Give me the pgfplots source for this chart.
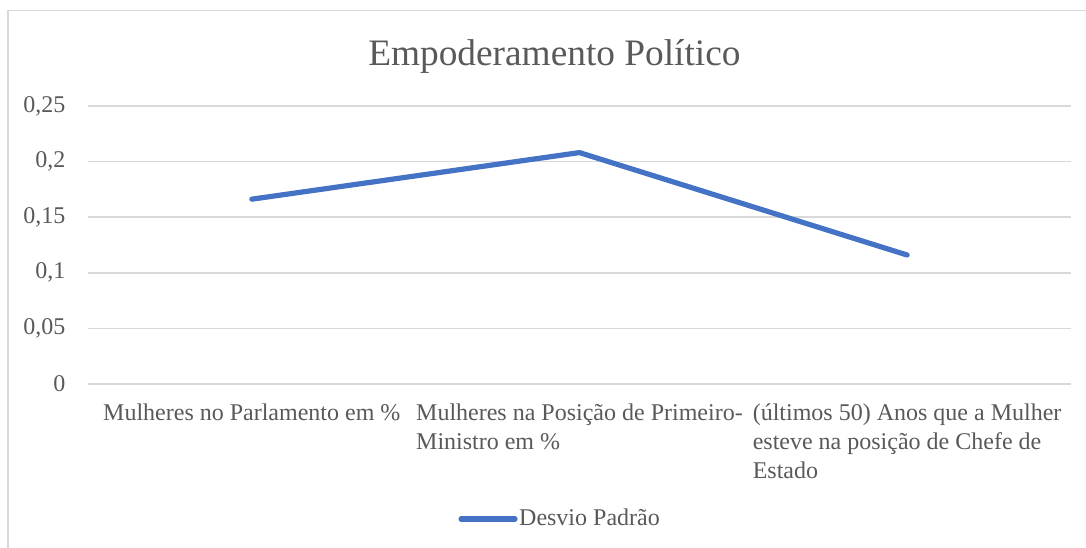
\documentclass[border=0pt]{standalone}
\usepackage{fontspec}
\setmainfont{Liberation Serif}
\usepackage{pgfplots}
\pgfplotsset{compat=1.18}
\definecolor{txt}{HTML}{595959}
\definecolor{grd}{HTML}{D9D9D9}
\definecolor{ser}{HTML}{4472C4}
\begin{document}
\begin{tikzpicture}
\useasboundingbox (0,0) rectangle (407.25pt,205.5pt);
\draw[grd, line width=0.45pt] (3pt,0pt) -- (3pt,201.5pt) -- (407.25pt,201.5pt);
\node[anchor=base, text=txt, font=\fontsize{14}{17}\selectfont, inner sep=0pt] at (207.9pt,181.1pt) {Empoderamento Político};
\begin{axis}[
  at={(33pt,61.5pt)}, anchor=south west,
  scale only axis, width=368.6pt, height=104.25pt,
  xmin=-0.5, xmax=2.5, ymin=0, ymax=0.25,
  axis line style={draw=none},
  major tick length=0pt,
  ymajorgrids, grid style={grd, line width=0.6pt},
  ytick={0,0.05,0.1,0.15,0.2,0.25},
  yticklabels={0,{0,05},{0,1},{0,15},{0,2},{0,25}},
  xtick={0,1,2},
  xticklabels={Mulheres no Parlamento em \%,{Mulheres na Posição de Primeiro-\\Ministro em \%},{(últimos 50) Anos que a Mulher\\esteve na posição de Chefe de\\Estado}},
  yticklabel style={anchor=east, inner sep=0pt, xshift=-8.25pt, text=txt, font=\fontsize{9}{11}\selectfont},
  xticklabel style={anchor=north, inner sep=0pt, yshift=-7.1pt, align=left, text=txt, font=\fontsize{9}{11}\selectfont},
  legend style={at={(0.3764,-0.4856)}, anchor=west, draw=none, fill=none, inner sep=0pt, font=\fontsize{9}{11}\selectfont, text=txt, nodes={inner sep=0.6pt}},
  legend image code/.code={\draw[#1, line cap=round] (0pt,0pt) -- (20.2pt,0pt);},
  clip=false,
]
\addplot[ser, line width=1.95pt, line cap=round, line join=round] coordinates {(0,0.1662) (1,0.2081) (2,0.1160)};
\addlegendentry{Desvio Padrão}
\end{axis}
\end{tikzpicture}
\end{document}
